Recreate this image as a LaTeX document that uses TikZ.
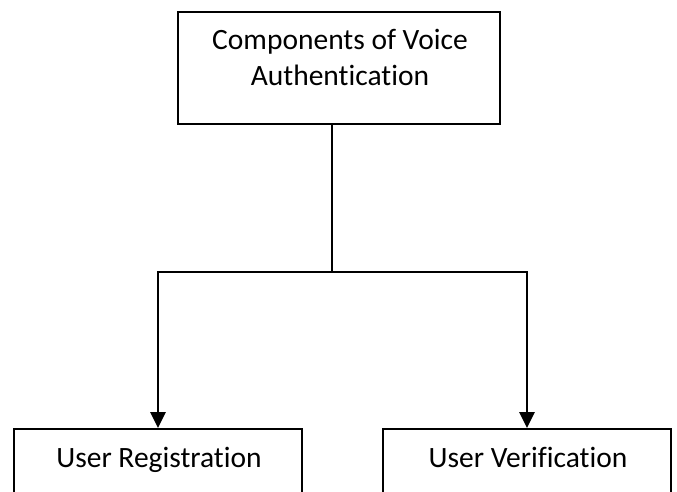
\documentclass[tikz,border=0pt]{standalone}
\usepackage{fontspec}
\setmainfont{Carlito}[Ligatures=NoCommon]
\usetikzlibrary{arrows.meta}

\tikzset{
  panel/.style={draw=black, line width=1.8pt, fill=white, inner sep=0pt},
  caption/.style={font=\fontsize{29.5}{36}\selectfont, align=center, inner sep=0pt},
  link/.style={draw=black, line width=2.6pt},
  arrowlink/.style={link, -{Triangle[width=15pt,length=16pt]}},
}

\begin{document}
\begin{tikzpicture}[x=1pt,y=-1pt]
  \useasboundingbox (0,0) rectangle (677,492);
  \clip (0,0) rectangle (677,492);

  % top box
  \node[panel, minimum width=322pt, minimum height=112pt] (toppanel) at (339,68) {};
  \node[caption, anchor=base] (toptext) at (340,86) {Components of Voice\\Authentication};

  % bottom boxes, running off the lower edge
  \node[panel, minimum width=288pt, minimum height=100pt] (regbox) at (158,479) {};
  \node[caption, anchor=base] (regtext) at (159,467) {User Registration};
  \node[panel, minimum width=288pt, minimum height=100pt] (verbox) at (527,479) {};
  \node[caption, anchor=base] (vertext) at (528,467) {User Verification};

  % branching connector
  \coordinate (fork) at (332,272);
  \draw[link] (toppanel.south -| fork) -- (fork);
  \draw[arrowlink] (fork) -| (regbox.north);
  \draw[arrowlink] (fork) -| (verbox.north);
\end{tikzpicture}
\end{document}
